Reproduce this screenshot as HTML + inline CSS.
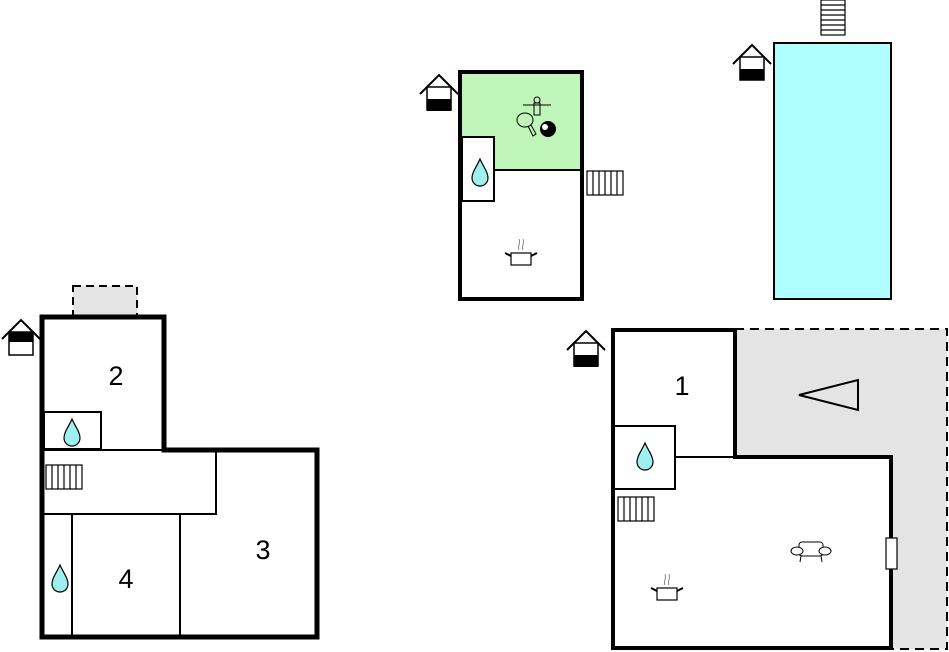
<!DOCTYPE html>
<html><head><meta charset="utf-8"><style>
html,body{margin:0;padding:0;background:#fff;}
svg{display:block;}
text{font-family:"Liberation Sans",sans-serif;}
</style></head><body>
<svg width="949" height="652" viewBox="0 0 949 652" xmlns="http://www.w3.org/2000/svg">
<defs>
<g id="house">
  <polyline points="0,20 19,1 38,20" fill="none" stroke="#000" stroke-width="2"/>
  <rect x="7" y="13" width="24" height="23" fill="#fff" stroke="#000" stroke-width="1.5"/>
</g>
<g id="drop">
  <path d="M0,-13 C3,-6 8,0 8,6 A8,8 0 0 1 -8,6 C-8,0 -3,-6 0,-13 Z" fill="#9ef0f0" stroke="#000" stroke-width="1.2"/>
</g>
<g id="stairsH">
  <rect x="0" y="0" width="36" height="24" fill="#fff" stroke="#000" stroke-width="1.2"/>
  <path d="M6,0V24M12,0V24M18,0V24M24,0V24M30,0V24" stroke="#000" stroke-width="1.2"/>
</g>
<g id="pot">
  <rect x="-10" y="0" width="20" height="12" fill="#fff" stroke="#000" stroke-width="1.2"/>
  <path d="M-10,3 L-16,0 M10,3 L16,0" stroke="#000" stroke-width="2"/>
  <path d="M-2,-3 C-4,-7 0,-9 -2,-14 M2,-3 C0,-7 4,-9 2,-14" fill="none" stroke="#888" stroke-width="1"/>
</g>
</defs>

<!-- Top middle building -->
<rect x="460" y="72" width="122" height="98" fill="#bff5b8"/>
<rect x="462" y="137" width="32" height="64" fill="#fff" stroke="#000" stroke-width="2"/>
<line x1="494" y1="170" x2="582" y2="170" stroke="#000" stroke-width="2"/>
<rect x="460" y="72" width="122" height="227" fill="none" stroke="#000" stroke-width="4"/>
<use href="#drop" x="480" y="172"/>
<use href="#stairsH" x="587" y="171"/>
<use href="#pot" x="521" y="253"/>
<g stroke="#000" fill="none" stroke-width="1">
  <line x1="523" y1="105" x2="551" y2="105"/>
  <circle cx="537" cy="100" r="3"/>
  <rect x="534" y="103" width="6" height="12"/>
  <ellipse cx="525" cy="120" rx="8" ry="7"/>
  <path d="M528,126 L533,136 L536,134 L531,125"/>
</g>
<circle cx="548" cy="129" r="8" fill="#000"/>
<circle cx="545" cy="127" r="3" fill="#fff"/>
<use href="#house" x="420" y="74"/>
<rect x="427" y="99" width="24" height="12" fill="#000"/>

<!-- Pool -->
<rect x="774" y="43" width="117" height="256" fill="#b0ffff" stroke="#000" stroke-width="2"/>
<rect x="821" y="0" width="24" height="35" fill="#fff" stroke="#000" stroke-width="1.2"/>
<path d="M821,5H845M821,10H845M821,15H845M821,20H845M821,25H845M821,30H845" stroke="#000" stroke-width="1.2"/>
<use href="#house" x="733" y="44"/>
<rect x="740" y="69" width="24" height="11" fill="#000"/>

<!-- Left building -->
<rect x="73" y="286" width="64" height="30" fill="#e4e4e4" stroke="#000" stroke-width="2" stroke-dasharray="8,5"/>
<rect x="44" y="412" width="57" height="37" fill="#fff" stroke="#000" stroke-width="2"/>
<rect x="42" y="450" width="174" height="64" fill="#fff" stroke="#000" stroke-width="2"/>
<line x1="72" y1="514" x2="72" y2="637" stroke="#000" stroke-width="2"/>
<line x1="180" y1="514" x2="180" y2="637" stroke="#000" stroke-width="2"/>
<polygon points="42,317 164,317 164,450 317,450 317,637 42,637" fill="none" stroke="#000" stroke-width="5"/>
<use href="#stairsH" x="46" y="465"/>
<use href="#drop" x="72" y="432"/>
<use href="#drop" x="60" y="578"/>
<text x="116" y="385" font-size="27" text-anchor="middle">2</text>
<text x="263" y="559" font-size="27" text-anchor="middle">3</text>
<text x="126" y="588" font-size="27" text-anchor="middle">4</text>
<use href="#house" x="2" y="319"/>
<rect x="9" y="332" width="24" height="10" fill="#000"/>

<!-- Right building -->
<polygon points="735,329 947,329 947,649 892,649 892,457 735,457" fill="#e4e4e4" stroke="#000" stroke-width="2" stroke-dasharray="9,6"/>
<rect x="614" y="426" width="61" height="63" fill="#fff" stroke="#000" stroke-width="2"/>
<line x1="675" y1="457" x2="735" y2="457" stroke="#000" stroke-width="2"/>
<polygon points="613,330 735,330 735,457 891,457 891,648 613,648" fill="none" stroke="#000" stroke-width="4"/>
<rect x="886" y="538" width="11" height="31" fill="#fff" stroke="#000" stroke-width="1.2"/>
<polygon points="799,395 858,380 858,410" fill="none" stroke="#000" stroke-width="2"/>
<use href="#stairsH" x="618" y="497"/>
<use href="#drop" x="645" y="456"/>
<use href="#pot" x="667" y="588"/>
<g stroke="#000" fill="#fff" stroke-width="1">
  <rect x="799" y="542" width="24" height="14" rx="3"/>
  <ellipse cx="797" cy="551" rx="6" ry="4"/>
  <ellipse cx="825" cy="551" rx="6" ry="4"/>
  <path d="M801,556 L800,562 M821,556 L822,562" fill="none"/>
</g>
<text x="682" y="395" font-size="27" text-anchor="middle">1</text>
<use href="#house" x="567" y="330"/>
<rect x="574" y="355" width="24" height="12" fill="#000"/>
</svg>
</body></html>
